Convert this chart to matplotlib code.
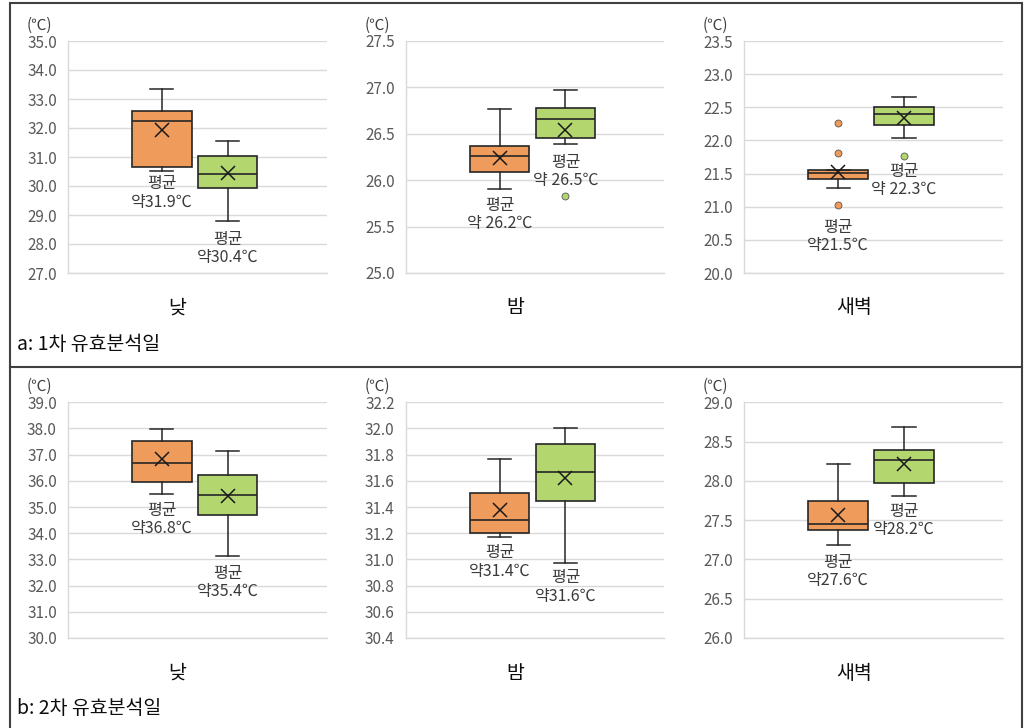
import matplotlib
matplotlib.use("Agg")
import matplotlib.pyplot as plt
import matplotlib.ticker as ticker
from matplotlib.patches import Rectangle
from matplotlib.lines import Line2D

plt.rcParams["font.family"] = ["Noto Sans CJK KR", "DejaVu Sans"]
plt.rcParams["axes.unicode_minus"] = False

periods = ["낮", "밤", "새벽"]
panel_titles = ["a: 1차 유효분석일", "b: 2차 유효분석일"]
series_colors = ["#EF9B5B", "#B3D66F"]

# 1차 유효분석일: [orange, green] for 낮 / 밤 / 새벽
a_whislo = [[30.51, 28.80], [25.90, 26.39], [21.28, 22.04]]
a_q1 = [[30.67, 29.92], [26.09, 26.45], [21.42, 22.24]]
a_med = [[32.24, 30.41], [26.26, 26.66], [21.51, 22.40]]
a_q3 = [[32.58, 31.04], [26.37, 26.78], [21.56, 22.51]]
a_whishi = [[33.33, 31.56], [26.77, 26.97], [21.56, 22.66]]
a_mean = [[31.93, 30.44], [26.24, 26.54], [21.53, 22.34]]
a_fliers = [[[], []], [[], [25.83]], [[22.27, 21.81, 21.02], [21.76]]]
a_prefix = [["약", "약"], ["약 ", "약 "], ["약", "약 "]]

# 2차 유효분석일
b_whislo = [[35.49, 33.15], [31.17, 30.97], [27.18, 27.81]]
b_q1 = [[35.94, 34.69], [31.20, 31.45], [27.38, 27.97]]
b_med = [[36.69, 35.46], [31.30, 31.67], [27.45, 28.26]]
b_q3 = [[37.52, 36.22], [31.51, 31.88], [27.74, 28.39]]
b_whishi = [[37.97, 37.15], [31.77, 32.00], [28.21, 28.69]]
b_mean = [[36.82, 35.41], [31.38, 31.62], [27.56, 28.21]]
b_fliers = [[[], []], [[], []], [[], []]]
b_prefix = [["약", "약"], ["약", "약"], ["약", "약"]]

# y axis range and tick step per subplot
a_ylim = [(27.0, 35.0, 1.0), (25.0, 27.5, 0.5), (20.0, 23.5, 0.5)]
b_ylim = [(30.0, 39.0, 1.0), (30.4, 32.2, 0.2), (26.0, 29.0, 0.5)]

panels = [
    (a_whislo, a_q1, a_med, a_q3, a_whishi, a_mean, a_fliers, a_prefix, a_ylim),
    (b_whislo, b_q1, b_med, b_q3, b_whishi, b_mean, b_fliers, b_prefix, b_ylim),
]

# where the mean labels sit (data y of the two-line block centre)
label_y = [
    [[29.76, 27.84], [25.63, 26.09], [20.55, 21.40]],
    [[34.52, 32.13], [30.98, 30.79], [26.85, 27.50]],
]

fig = plt.figure(figsize=(10.3, 7.28), dpi=100)
W, H = 1030, 728

ax_left = [68, 405.7, 744.3]
ax_width = 258.5
ax_rows = [(41, 273), (402.3, 638)]
positions = [0.363, 0.618]

for r, (whislo, q1, med, q3, whishi, mean, fliers, prefix, ylims) in enumerate(panels):
    top_px, bot_px = ax_rows[r]
    for c in range(3):
        ax = fig.add_axes([ax_left[c] / W, 1 - bot_px / H,
                           ax_width / W, (bot_px - top_px) / H])
        stats = []
        for s in range(2):
            stats.append({
                "whislo": whislo[c][s], "q1": q1[c][s], "med": med[c][s],
                "q3": q3[c][s], "whishi": whishi[c][s], "mean": mean[c][s],
                "fliers": fliers[c][s],
            })
        for s in range(2):
            ax.bxp(
                [stats[s]], positions=[positions[s]], widths=0.23,
                capwidths=0.09, showmeans=True, patch_artist=True,
                boxprops=dict(facecolor=series_colors[s], edgecolor="#262626",
                              linewidth=1.2),
                medianprops=dict(color="#262626", linewidth=1.2),
                whiskerprops=dict(color="#262626", linewidth=1.1),
                capprops=dict(color="#262626", linewidth=1.1),
                meanprops=dict(marker="x", markeredgecolor="#1a1a1a",
                               markersize=9.5, markeredgewidth=1.1),
                flierprops=dict(marker="o", markerfacecolor=series_colors[s],
                                markeredgecolor="#555555", markeredgewidth=0.6,
                                markersize=5),
                zorder=3,
            )
            ax.text(positions[s], label_y[r][c][s],
                    f"평균\n{prefix[c][s]}{mean[c][s]:.1f}℃",
                    ha="center", va="center", fontsize=11.5, color="#3a3a3a",
                    linespacing=1.1, zorder=4)

        lo, hi, step = ylims[c]
        ax.set_ylim(lo, hi)
        ax.set_xlim(0, 1)
        ax.yaxis.set_major_locator(ticker.MultipleLocator(step))
        ax.yaxis.set_major_formatter(ticker.FormatStrFormatter("%.1f"))
        ax.set_xticks([])
        ax.tick_params(axis="y", length=0, pad=8, labelsize=11,
                       labelcolor="#595959")
        ax.grid(axis="y", color="#D9D9D9", linewidth=1)
        ax.set_axisbelow(True)
        for side in ["top", "right"]:
            ax.spines[side].set_visible(False)
        for side in ["left", "bottom"]:
            ax.spines[side].set_color("#D9D9D9")
            ax.spines[side].set_linewidth(1)

        ax.text(-0.11, 1.068, "(℃)", transform=ax.transAxes, ha="center",
                va="center", fontsize=11, color="#404040")
        ax.text(0.424, -0.15, periods[c], transform=ax.transAxes, ha="center",
                va="center", fontsize=14, color="#0d0d0d")

    fig.text(17 / W, 1 - (345 if r == 0 else 708) / H, panel_titles[r],
             ha="left", va="center", fontsize=14, color="#0d0d0d")

# outer frame and divider between the two panels
fig.patches.append(Rectangle((10 / W, -0.01), 1012 / W, 1 - 3 / H + 0.01,
                             transform=fig.transFigure, fill=False,
                             edgecolor="#404040", linewidth=1.5))
fig.lines.append(Line2D([10 / W, 1022 / W], [1 - 367 / H, 1 - 367 / H],
                        transform=fig.transFigure, color="#404040",
                        linewidth=1.5))

fig.savefig("out.png", dpi=100)
